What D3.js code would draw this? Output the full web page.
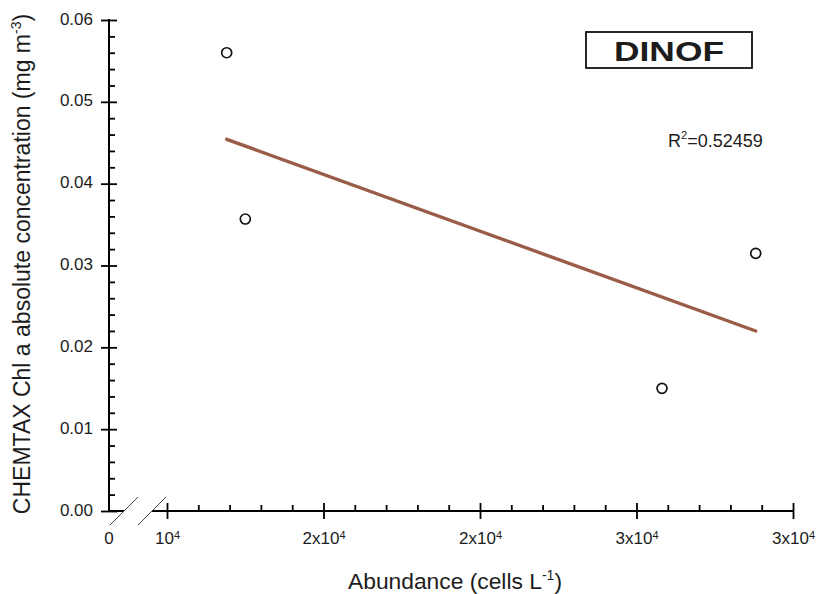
<!DOCTYPE html>
<html>
<head>
<meta charset="utf-8">
<script src="https://cdn.jsdelivr.net/npm/d3@7"></script>
<style>
  body { margin: 0; background: #fff; }
  text { font-family: Arial, "Liberation Sans", sans-serif; fill: #1c1c1c; }
</style>
</head>
<body>
<svg id="chart" width="817" height="594"></svg>
<script>
// Dinoflagellate abundance vs CHEMTAX chlorophyll a
const abundance = [11907, 12502, 25815, 28809];      // cells L-1
const chlA = [0.0560, 0.03568, 0.01499, 0.03149];     // mg m-3
const xTickValues = [10000, 15000, 20000, 25000, 30000];
const xTickLabels = [["10", "4"], ["2x10", "4"], ["2x10", "4"], ["3x10", "4"], ["3x10", "4"]];
const yTickValues = [0, 0.01, 0.02, 0.03, 0.04, 0.05, 0.06];
const panelTitle = "DINOF";
const r2Text = "=0.52459";

const W = 817, H = 594;
const plot = { left: 109, right: 793, top: 20, bottom: 511 };
const brk = { start: 167 };   // first value after the axis break

const svg = d3.select("#chart");

const x = d3.scaleLinear().domain([10000, 30000]).range([brk.start, plot.right]);
const y = d3.scaleLinear().domain([0, 0.06]).range([plot.bottom, plot.top]);

const xMinor = d3.range(11000, 30000, 1000).filter(v => v % 5000 !== 0);
const yMinor = d3.range(1, 30).map(i => i * 0.002).filter((v, i) => (i + 1) % 5 !== 0);

const axisStroke = g => {
  g.select(".domain").remove();
  g.selectAll(".tick line").attr("stroke", "#000").attr("stroke-width", 1.8);
};

// ---- Y axis ----
svg.append("line")
  .attr("x1", plot.left).attr("x2", plot.left)
  .attr("y1", y(0.06) - 1).attr("y2", y(0) + 1)
  .attr("stroke", "#000").attr("stroke-width", 2);

svg.append("g").attr("transform", `translate(${plot.left},0)`)
  .call(d3.axisRight(y).tickValues(yMinor).tickSize(6).tickFormat(""))
  .call(axisStroke);
svg.append("g").attr("transform", `translate(${plot.left},0)`)
  .call(d3.axisRight(y).tickValues(yTickValues).tickSize(8).tickFormat(""))
  .call(axisStroke);
const yAx = svg.append("g").attr("transform", `translate(${plot.left},0)`)
  .call(d3.axisLeft(y).tickValues(yTickValues).tickSize(8).tickPadding(8)
    .tickFormat(d3.format(".2f")))
  .call(axisStroke);
yAx.selectAll("text")
  .attr("font-size", 17).attr("font-family", "Arial, 'Liberation Sans', sans-serif")
  .attr("fill", "#222").attr("dy", "0.24em");

// ---- X axis (broken between 0 and 10^4) ----
const breakA = plot.left + 15, breakB = plot.left + 43;
svg.append("line")
  .attr("x1", plot.left).attr("x2", breakA)
  .attr("y1", plot.bottom).attr("y2", plot.bottom)
  .attr("stroke", "#000").attr("stroke-width", 2);
svg.append("line")
  .attr("x1", breakB).attr("x2", plot.right + 1)
  .attr("y1", plot.bottom).attr("y2", plot.bottom)
  .attr("stroke", "#000").attr("stroke-width", 2);
[breakA, breakB].forEach(cx => {
  svg.append("line")
    .attr("x1", cx - 14).attr("y1", plot.bottom + 14)
    .attr("x2", cx + 14).attr("y2", plot.bottom - 14)
    .attr("stroke", "#444").attr("stroke-width", 1);
});

svg.append("g").attr("transform", `translate(0,${plot.bottom})`)
  .call(d3.axisTop(x).tickValues(xMinor).tickSize(6).tickFormat(""))
  .call(axisStroke);
svg.append("g").attr("transform", `translate(0,${plot.bottom})`)
  .call(d3.axisTop(x).tickValues(xTickValues).tickSize(8).tickFormat(""))
  .call(axisStroke);
const xAx = svg.append("g").attr("transform", `translate(0,${plot.bottom})`)
  .call(d3.axisBottom(x).tickValues(xTickValues).tickSize(8).tickPadding(13)
    .tickFormat(""))
  .call(axisStroke);
xAx.selectAll(".tick text").each(function (d, i) {
  const t = d3.select(this)
    .attr("font-size", 17).attr("font-family", "Arial, 'Liberation Sans', sans-serif")
    .attr("fill", "#222").text(null);
  t.append("tspan").text(xTickLabels[i][0]);
  t.append("tspan").attr("font-size", 11).attr("dy", "-0.45em").text(xTickLabels[i][1]);
});
// zero label at the origin, before the break
svg.append("text")
  .attr("x", plot.left).attr("y", plot.bottom + 33)
  .attr("text-anchor", "middle").attr("font-size", 17).attr("fill", "#222")
  .text("0");

// ---- Regression line ----
const n = abundance.length;
const mx = d3.mean(abundance), my = d3.mean(chlA);
let sxy = 0, sxx = 0;
for (let i = 0; i < n; i++) {
  sxy += (abundance[i] - mx) * (chlA[i] - my);
  sxx += (abundance[i] - mx) ** 2;
}
const slope = sxy / sxx, icpt = my - slope * mx;
const [xmin, xmax] = d3.extent(abundance);
svg.append("path")
  .datum([xmin, xmax])
  .attr("d", d3.line().x(d => x(d)).y(d => y(icpt + slope * d)))
  .attr("stroke", "#9a5b47").attr("stroke-width", 3.4)
  .attr("stroke-linecap", "round").attr("fill", "none");

// ---- Points ----
svg.append("g").selectAll("circle")
  .data(abundance.map((a, i) => [a, chlA[i]]))
  .join("circle")
  .attr("cx", d => x(d[0])).attr("cy", d => y(d[1]))
  .attr("r", 5).attr("fill", "#fff")
  .attr("stroke", "#111").attr("stroke-width", 1.7);

// ---- Panel title ----
svg.append("rect")
  .attr("x", 586).attr("y", 32).attr("width", 166).attr("height", 36)
  .attr("fill", "#fff").attr("stroke", "#111").attr("stroke-width", 1.8);
svg.append("text")
  .attr("x", 669).attr("y", 61).attr("text-anchor", "middle")
  .attr("font-size", 28).attr("font-weight", "bold")
  .attr("textLength", 110).attr("lengthAdjust", "spacingAndGlyphs")
  .text(panelTitle);

// ---- R squared ----
const r2 = svg.append("text").attr("x", 668).attr("y", 147).attr("font-size", 18);
r2.append("tspan").text("R");
r2.append("tspan").attr("font-size", 11).attr("dy", -8).text("2");
r2.append("tspan").attr("dy", 8).text(r2Text);

// ---- Axis titles ----
const yt = svg.append("text")
  .attr("transform", "translate(30,264) rotate(-90)")
  .attr("text-anchor", "middle").attr("font-size", 23);
yt.append("tspan").text("CHEMTAX Chl a absolute concentration (mg m");
yt.append("tspan").attr("font-size", 14).attr("dy", -9).text("-3");
yt.append("tspan").attr("dy", 9).text(")");

const xt = svg.append("text")
  .attr("x", 455).attr("y", 589)
  .attr("text-anchor", "middle").attr("font-size", 22.8);
xt.append("tspan").text("Abundance (cells L");
xt.append("tspan").attr("font-size", 14).attr("dy", -9).text("-1");
xt.append("tspan").attr("dy", 9).text(")");
</script>
</body>
</html>
